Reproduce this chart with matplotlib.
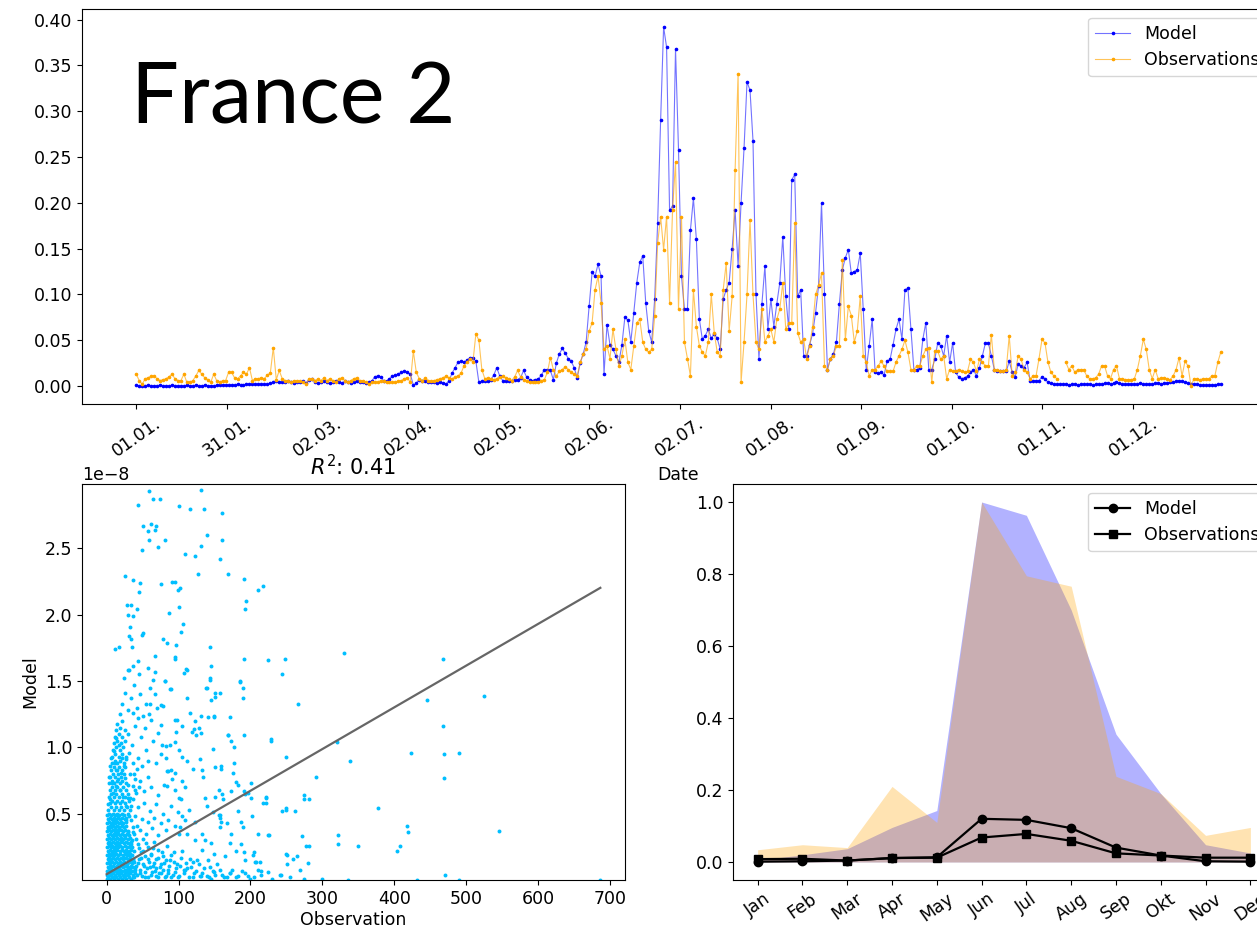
import numpy as np
import matplotlib
matplotlib.use("Agg")
import matplotlib.pyplot as plt

# ---------------- daily series (Jan 1 .. Dec 31) ----------------
model_daily = [
    0.001, 0.000, 0.000, 0.000, 0.001, 0.000, 0.000, 0.000, 0.001, 0.000,
    0.000, 0.000, 0.001, 0.000, 0.000, 0.000, 0.000, 0.001, 0.000, 0.000,
    0.001, 0.000, 0.000, 0.001, 0.000, 0.000, 0.000, 0.001, 0.001, 0.001,
    0.001, 0.001, 0.001, 0.001, 0.002, 0.001, 0.001, 0.002, 0.002, 0.002,
    0.002, 0.002, 0.002, 0.002, 0.002, 0.003, 0.004, 0.005, 0.004, 0.004,
    0.004, 0.005, 0.004, 0.003, 0.004, 0.004, 0.005, 0.003, 0.007, 0.008,
    0.004, 0.003, 0.004, 0.005, 0.004, 0.003, 0.004, 0.005, 0.004, 0.003,
    0.005, 0.004, 0.003, 0.004, 0.005, 0.004, 0.004, 0.003, 0.004, 0.005,
    0.010, 0.011, 0.010, 0.006, 0.005, 0.008, 0.011, 0.012, 0.013, 0.015,
    0.016, 0.015, 0.013, 0.001, 0.003, 0.007, 0.006, 0.005, 0.004, 0.004,
    0.004, 0.003, 0.004, 0.003, 0.002, 0.006, 0.014, 0.020, 0.026, 0.027,
    0.026, 0.028, 0.031, 0.031, 0.027, 0.004, 0.005, 0.006, 0.005, 0.007,
    0.012, 0.020, 0.011, 0.006, 0.005, 0.005, 0.006, 0.007, 0.007, 0.009,
    0.017, 0.010, 0.007, 0.006, 0.007, 0.008, 0.012, 0.018, 0.018, 0.017,
    0.007, 0.025, 0.035, 0.041, 0.036, 0.030, 0.027, 0.020, 0.009, 0.025,
    0.035, 0.048, 0.087, 0.124, 0.120, 0.133, 0.120, 0.013, 0.067, 0.045,
    0.040, 0.033, 0.026, 0.045, 0.075, 0.072, 0.048, 0.080, 0.113, 0.135,
    0.142, 0.091, 0.060, 0.048, 0.095, 0.178, 0.290, 0.392, 0.370, 0.192,
    0.196, 0.368, 0.258, 0.120, 0.084, 0.084, 0.170, 0.205, 0.160, 0.073,
    0.051, 0.055, 0.062, 0.052, 0.057, 0.052, 0.040, 0.095, 0.105, 0.113,
    0.150, 0.192, 0.131, 0.200, 0.260, 0.332, 0.323, 0.268, 0.101, 0.030,
    0.090, 0.131, 0.062, 0.095, 0.065, 0.090, 0.113, 0.163, 0.098, 0.062,
    0.225, 0.231, 0.098, 0.105, 0.033, 0.033, 0.045, 0.057, 0.080, 0.109,
    0.200, 0.101, 0.018, 0.030, 0.035, 0.048, 0.090, 0.127, 0.140, 0.149,
    0.123, 0.125, 0.127, 0.145, 0.084, 0.018, 0.044, 0.073, 0.015, 0.014,
    0.015, 0.012, 0.027, 0.029, 0.045, 0.062, 0.073, 0.051, 0.105, 0.107,
    0.062, 0.018, 0.018, 0.020, 0.051, 0.069, 0.018, 0.018, 0.029, 0.047,
    0.044, 0.033, 0.055, 0.026, 0.047, 0.015, 0.010, 0.008, 0.009, 0.011,
    0.015, 0.018, 0.011, 0.020, 0.033, 0.047, 0.047, 0.033, 0.018, 0.016,
    0.016, 0.016, 0.016, 0.027, 0.015, 0.010, 0.024, 0.022, 0.020, 0.026,
    0.006, 0.006, 0.006, 0.006, 0.010, 0.008, 0.004, 0.003, 0.002, 0.002,
    0.002, 0.002, 0.002, 0.001, 0.002, 0.002, 0.001, 0.002, 0.002, 0.002,
    0.002, 0.001, 0.002, 0.002, 0.002, 0.003, 0.003, 0.002, 0.003, 0.004,
    0.003, 0.002, 0.002, 0.002, 0.002, 0.002, 0.002, 0.003, 0.002, 0.002,
    0.002, 0.002, 0.003, 0.003, 0.002, 0.003, 0.003, 0.004, 0.004, 0.005,
    0.006, 0.005, 0.004, 0.003, 0.002, 0.002, 0.002, 0.001, 0.001, 0.001,
    0.001, 0.001, 0.001, 0.002, 0.002,
]

nan = float("nan")
obs_daily = [
    0.013, 0.006, 0.002, 0.008, 0.009, 0.011, 0.011, 0.008, 0.006, 0.007,
    0.008, 0.010, 0.013, 0.008, 0.006, 0.006, 0.013, 0.004, 0.004, 0.006,
    0.011, 0.017, 0.013, 0.009, 0.007, 0.004, 0.013, 0.006, 0.004, 0.006,
    0.006, 0.015, 0.015, 0.009, 0.008, 0.011, 0.015, 0.013, 0.020, 0.006,
    0.008, 0.008, 0.009, 0.008, 0.012, 0.014, 0.042, 0.007, 0.017, 0.008,
    0.006, 0.006, 0.004, 0.006, 0.006, 0.005, 0.004, 0.002, 0.008, 0.008,
    0.006, 0.008, 0.006, 0.009, 0.006, 0.008, 0.006, 0.004, 0.008, 0.009,
    0.006, 0.004, 0.006, 0.008, 0.009, 0.006, 0.006, 0.004, 0.002, 0.004,
    0.004, 0.004, 0.006, 0.005, 0.004, 0.004, 0.004, 0.004, 0.005, 0.006,
    0.008, 0.009, 0.004, 0.038, 0.015, 0.008, 0.006, 0.009, 0.006, 0.005,
    0.006, 0.007, 0.008, 0.009, 0.011, 0.009, 0.008, 0.010, 0.011, 0.014,
    0.022, 0.026, 0.030, 0.026, 0.057, 0.050, 0.018, 0.008, 0.009, 0.008,
    0.007, 0.008, 0.010, 0.011, 0.009, 0.008, 0.006, 0.010, 0.017, 0.010,
    0.007, 0.006, 0.004, 0.004, 0.004, 0.004, 0.006, 0.007, 0.015, 0.031,
    0.018, 0.011, 0.016, 0.018, 0.021, 0.018, 0.015, 0.013, 0.011, 0.026,
    0.035, 0.040, 0.060, 0.069, 0.105, 0.120, 0.091, 0.040, 0.044, 0.030,
    0.062, 0.040, 0.022, 0.033, 0.051, 0.026, 0.018, 0.044, 0.069, 0.073,
    0.048, 0.040, 0.037, 0.040, 0.076, 0.156, 0.185, 0.149, 0.185, 0.091,
    0.192, 0.245, 0.084, 0.185, 0.048, 0.030, 0.011, 0.105, 0.065, 0.044,
    0.037, 0.033, 0.048, 0.100, 0.058, 0.037, 0.033, 0.105, 0.134, 0.060,
    0.098, 0.236, 0.341, 0.004, 0.048, 0.100, 0.181, 0.100, 0.048, 0.040,
    0.084, 0.048, 0.055, 0.062, 0.048, 0.073, 0.084, 0.113, 0.062, 0.069,
    0.069, 0.178, 0.058, 0.048, 0.051, 0.030, 0.044, 0.065, 0.100, 0.110,
    0.123, 0.022, 0.018, 0.030, 0.033, 0.044, 0.044, 0.138, 0.051, 0.087,
    0.077, 0.048, 0.060, 0.098, 0.033, 0.026, 0.011, 0.018, 0.018, 0.022,
    0.027, 0.022, 0.016, 0.016, 0.016, 0.026, 0.033, 0.040, 0.050, 0.037,
    0.018, 0.018, 0.022, 0.022, 0.033, 0.040, 0.042, 0.004, 0.038, 0.038,
    0.029, 0.033, 0.008, 0.018, 0.016, 0.016, 0.018, 0.016, 0.015, 0.016,
    0.029, 0.026, 0.016, 0.029, 0.026, 0.022, 0.022, 0.056, 0.018, 0.018,
    0.016, 0.016, 0.018, 0.055, 0.011, 0.015, 0.033, 0.029, 0.018, 0.015,
    0.008, 0.011, 0.011, 0.030, 0.051, 0.047, 0.026, 0.015, 0.011, 0.008,
    nan,   nan,   0.026, 0.018, 0.022, 0.015, 0.018, 0.018, 0.018, 0.011,
    0.008, 0.008, 0.009, 0.013, 0.022, 0.022, 0.011, 0.008, 0.018, 0.022,
    0.008, 0.008, 0.007, 0.007, 0.007, 0.008, 0.018, 0.033, 0.051, 0.040,
    0.018, 0.008, 0.018, 0.008, 0.009, 0.009, 0.008, 0.007, 0.011, 0.018,
    0.031, 0.011, 0.027, 0.022, 0.000, 0.008, 0.008, 0.007, 0.008, 0.008,
    0.008, 0.011, 0.011, 0.026, 0.037,
]

date_tick_labels = ["01.01.", "31.01.", "02.03.", "02.04.", "02.05.", "02.06.",
                    "02.07.", "01.08.", "01.09.", "01.10.", "01.11.", "01.12."]

# ---------------- scatter: observation vs model (model in units of 1e-8) ----------------
scatter_core = [
    (0.3, 0.01), (2.4, 0.02), (4.9, 0.01), (7.3, 0.02), (9.8, 0.01), (12.6, 0.02), (15.2, 0.01),
    (18.1, 0.02), (21.0, 0.01), (24.2, 0.02), (27.5, 0.01), (30.9, 0.02), (34.4, 0.01), (38.0, 0.02),
    (1.1, 0.04), (3.6, 0.05), (6.0, 0.04), (8.6, 0.05), (11.2, 0.04), (13.9, 0.05), (16.7, 0.04),
    (19.6, 0.05), (22.6, 0.04), (25.8, 0.05), (29.1, 0.04), (32.6, 0.05), (36.2, 0.04), (39.9, 0.05),
    (0.6, 0.07), (3.0, 0.08), (5.5, 0.07), (8.0, 0.08), (10.6, 0.07), (13.3, 0.08), (16.0, 0.07),
    (18.9, 0.08), (21.9, 0.07), (25.0, 0.08), (28.3, 0.07), (31.7, 0.08), (35.3, 0.07), (39.0, 0.08),
    (1.5, 0.10), (4.0, 0.11), (6.6, 0.10), (9.2, 0.11), (11.9, 0.10), (14.6, 0.11), (17.4, 0.10),
    (20.3, 0.11), (23.4, 0.10), (26.6, 0.11), (29.9, 0.10), (33.4, 0.11), (37.1, 0.10),
    (0.4, 0.13), (2.8, 0.14), (5.2, 0.13), (7.8, 0.14), (10.4, 0.13), (13.0, 0.14), (15.8, 0.13),
    (18.6, 0.14), (21.6, 0.13), (24.7, 0.14), (28.0, 0.13), (31.4, 0.14), (35.0, 0.13), (38.6, 0.14),
    (1.3, 0.16), (3.8, 0.17), (6.3, 0.16), (8.9, 0.17), (11.6, 0.16), (14.3, 0.17), (17.1, 0.16),
    (20.0, 0.17), (23.1, 0.16), (26.3, 0.17), (29.6, 0.16), (33.1, 0.17), (36.7, 0.16),
    (0.7, 0.19), (3.1, 0.20), (5.6, 0.19), (8.2, 0.20), (10.8, 0.19), (13.5, 0.20), (16.3, 0.19),
    (19.2, 0.20), (22.2, 0.19), (25.4, 0.20), (28.7, 0.19), (32.1, 0.20), (35.8, 0.19),
    (1.8, 0.22), (4.3, 0.23), (6.9, 0.22), (9.5, 0.23), (12.2, 0.22), (15.0, 0.23), (17.9, 0.22),
    (20.8, 0.23), (23.9, 0.22), (27.1, 0.23), (30.5, 0.22), (34.0, 0.23),
    (0.5, 0.25), (2.9, 0.26), (5.4, 0.25), (8.0, 0.26), (10.6, 0.25), (13.3, 0.26), (16.1, 0.25),
    (19.0, 0.26), (22.0, 0.25), (25.1, 0.26), (28.4, 0.25), (31.9, 0.26), (35.5, 0.25),
    (1.4, 0.28), (3.9, 0.29), (6.5, 0.28), (9.1, 0.29), (11.8, 0.28), (14.6, 0.29), (17.5, 0.28),
    (20.4, 0.29), (23.5, 0.28), (26.8, 0.29), (30.2, 0.28), (33.7, 0.29),
    (0.8, 0.31), (3.2, 0.32), (5.8, 0.31), (8.4, 0.32), (11.0, 0.31), (13.8, 0.32), (16.6, 0.31),
    (19.5, 0.32), (22.6, 0.31), (25.8, 0.32), (29.2, 0.31), (32.8, 0.32),
    (1.9, 0.34), (4.4, 0.35), (7.0, 0.34), (9.7, 0.35), (12.4, 0.34), (15.2, 0.35), (18.1, 0.34),
    (21.1, 0.35), (24.3, 0.34), (27.6, 0.35), (31.0, 0.34),
    (0.6, 0.37), (3.0, 0.38), (5.6, 0.37), (8.2, 0.38), (10.9, 0.37), (13.6, 0.38), (16.4, 0.37),
    (19.4, 0.38), (22.5, 0.37), (25.7, 0.38), (29.0, 0.37),
    (1.6, 0.40), (4.1, 0.41), (6.7, 0.40), (9.3, 0.41), (12.0, 0.40), (14.8, 0.41), (17.7, 0.40),
    (20.7, 0.41), (23.8, 0.40), (27.1, 0.41),
    (0.9, 0.43), (3.4, 0.44), (6.0, 0.43), (8.6, 0.44), (11.3, 0.43), (14.1, 0.44), (17.0, 0.43),
    (20.0, 0.44), (23.1, 0.43), (26.4, 0.44),
    (2.0, 0.46), (4.5, 0.47), (7.1, 0.46), (9.8, 0.47), (12.6, 0.46), (15.4, 0.47), (18.4, 0.46),
    (21.5, 0.47), (24.8, 0.46),
    (1.1, 0.49), (3.6, 0.50), (6.2, 0.49), (8.9, 0.50), (11.7, 0.49), (14.6, 0.50), (17.6, 0.49),
    (20.7, 0.50), (24.0, 0.49),
    (1.9, 0.03), (5.8, 0.06), (10.1, 0.02), (14.4, 0.09), (18.8, 0.05), (23.1, 0.12), (27.4, 0.08),
    (31.8, 0.15), (3.3, 0.18), (7.7, 0.21), (12.0, 0.24), (16.4, 0.27), (20.7, 0.30), (25.0, 0.33),
    (29.4, 0.36), (2.5, 0.39), (6.9, 0.42), (11.2, 0.45), (15.6, 0.48), (19.9, 0.12), (24.2, 0.17),
    (28.6, 0.21), (32.9, 0.25), (4.6, 0.28), (9.0, 0.33), (13.3, 0.36), (17.7, 0.39), (22.0, 0.42),
    (26.3, 0.45), (30.7, 0.48), (35.0, 0.30), (38.2, 0.35), (36.5, 0.40), (33.2, 0.45), (29.8, 0.50),
    (27.0, 0.47),
]

scatter_column = [
    (2.5, 0.53), (6.0, 0.55), (9.5, 0.53), (13.0, 0.55), (16.5, 0.53), (20.0, 0.55), (24.0, 0.53),
    (28.0, 0.55), (32.0, 0.53),
    (4.0, 0.58), (7.5, 0.60), (11.0, 0.58), (14.5, 0.60), (18.0, 0.58), (22.0, 0.60), (26.0, 0.58),
    (30.5, 0.60),
    (3.0, 0.63), (6.5, 0.65), (10.0, 0.63), (13.5, 0.65), (17.0, 0.63), (21.0, 0.65), (25.0, 0.63),
    (29.5, 0.65),
    (4.5, 0.68), (8.0, 0.70), (11.5, 0.68), (15.0, 0.70), (19.0, 0.68), (23.0, 0.70), (27.5, 0.68),
    (3.5, 0.73), (7.0, 0.75), (10.5, 0.73), (14.0, 0.75), (18.0, 0.73), (22.0, 0.75), (26.5, 0.73),
    (5.0, 0.78), (8.5, 0.80), (12.0, 0.78), (16.0, 0.80), (20.0, 0.78), (24.5, 0.80),
    (6.0, 0.83), (9.5, 0.85), (13.0, 0.83), (17.0, 0.85), (21.0, 0.83), (26.0, 0.85),
    (7.0, 0.88), (11.0, 0.90), (15.0, 0.88), (19.0, 0.90), (24.0, 0.88),
    (8.0, 0.93), (12.0, 0.95), (16.5, 0.93), (21.0, 0.95), (27.0, 0.93),
    (9.0, 0.98), (13.5, 1.00), (18.0, 0.98), (23.0, 1.00),
    (10.0, 1.03), (15.0, 1.05), (20.0, 1.03), (26.0, 1.05),
    (11.5, 1.08), (16.5, 1.10), (22.0, 1.08),
    (13.0, 1.13), (18.0, 1.15), (25.0, 1.13),
    (15.0, 1.18), (21.0, 1.20),
    (2.0, 0.57), (5.0, 0.61), (8.8, 0.66), (12.5, 0.71), (16.0, 0.76), (19.5, 0.81), (23.5, 0.86),
    (27.0, 0.91), (31.0, 0.96), (34.5, 0.56), (37.0, 0.61), (40.0, 0.68), (4.0, 0.86), (6.5, 0.92),
    (10.0, 0.97), (13.5, 1.07), (17.5, 1.02), (21.5, 0.92), (25.5, 0.77), (29.0, 0.72), (32.5, 0.80),
    (36.0, 0.88), (39.5, 0.76), (42.5, 0.84), (45.0, 0.70), (3.0, 0.78), (7.5, 0.73), (11.0, 0.88),
    (14.5, 0.83), (18.5, 0.68), (22.5, 0.63), (26.5, 0.56), (30.0, 0.62),
]

scatter_spread = [
    (41, 0.11), (43, 0.27), (45, 0.16), (46, 0.05), (48, 0.21), (50, 0.12), (51, 0.31), (53, 0.02),
    (54, 0.18), (56, 0.09), (57, 0.25), (59, 0.14), (61, 0.04), (62, 0.20), (64, 0.11), (66, 0.29),
    (67, 0.07), (69, 0.16), (71, 0.02), (72, 0.23), (74, 0.10), (76, 0.05), (78, 0.18), (80, 0.13),
    (82, 0.03), (84, 0.26), (86, 0.08), (88, 0.15), (90, 0.02), (93, 0.21), (95, 0.06), (98, 0.12),
    (101, 0.03), (104, 0.17), (107, 0.08), (111, 0.13), (114, 0.02), (118, 0.10), (122, 0.05),
    (126, 0.15), (131, 0.03), (136, 0.09), (142, 0.02), (148, 0.07), (154, 0.12), (160, 0.04),
    (168, 0.02), (175, 0.08), (183, 0.03), (192, 0.05), (200, 0.01),
    (26, 0.03), (28, 0.12), (30, 0.06), (31, 0.19), (33, 0.09), (34, 0.27), (36, 0.02), (37, 0.15),
    (38, 0.22), (40, 0.09), (41, 0.31), (42, 0.04), (44, 0.13), (45, 0.24), (47, 0.08), (48, 0.17),
    (49, 0.03), (51, 0.22), (52, 0.11), (54, 0.06), (55, 0.28), (57, 0.16), (58, 0.02), (60, 0.10),
    (61, 0.19), (63, 0.06), (64, 0.24), (66, 0.13), (68, 0.03), (69, 0.09), (71, 0.17), (73, 0.05),
    (75, 0.12), (77, 0.21), (79, 0.08), (81, 0.02), (83, 0.15), (85, 0.05), (87, 0.11), (89, 0.19),
    (92, 0.04), (94, 0.14), (97, 0.09), (99, 0.02), (102, 0.11), (105, 0.22), (108, 0.05), (112, 0.09),
    (116, 0.16), (120, 0.02), (124, 0.07), (128, 0.12), (133, 0.05), (139, 0.03), (144, 0.10),
    (151, 0.04), (158, 0.08), (163, 0.02), (171, 0.05), (180, 0.02), (188, 0.07), (196, 0.03),
    (205, 0.02), (230, 0.01), (255, 0.02), (275, 0.01), (300, 0.01),
    (37, 0.36), (39, 0.48), (42, 0.41), (44, 0.55), (47, 0.38), (49, 0.46), (52, 0.58), (55, 0.35),
    (58, 0.44), (60, 0.52), (63, 0.39), (66, 0.47), (69, 0.57), (72, 0.34), (75, 0.43), (78, 0.50),
    (82, 0.38), (86, 0.45), (90, 0.56), (95, 0.41), (100, 0.35), (105, 0.48),
    (33, 0.62), (36, 0.71), (38, 0.80), (41, 0.66), (43, 0.92), (46, 0.75), (49, 0.86), (52, 0.67),
    (55, 0.98), (58, 0.78), (62, 0.70), (65, 1.05), (68, 0.88), (72, 0.64), (76, 0.95), (80, 0.72),
    (85, 0.82), (30, 1.10), (35, 1.02), (39, 1.16), (44, 1.22), (48, 1.08), (53, 1.15), (57, 0.90),
    (61, 1.21),
    (18, 1.25), (22, 1.33), (26, 1.41), (29, 1.28), (34, 1.37), (38, 1.47), (42, 1.30), (47, 1.40),
    (51, 1.24), (55, 1.33), (60, 1.45), (24, 1.52), (31, 1.58), (36, 1.26), (45, 1.55), (70, 1.30),
    (75, 1.17), (88, 1.02),
    (159.7, 0.44), (156.0, 0.49), (157.4, 0.40), (167.6, 0.43), (187.5, 0.44), (189.8, 0.40),
    (138.9, 0.56), (136.6, 0.62), (148.6, 0.51), (172.7, 0.35), (171.3, 0.28), (187.5, 0.27),
    (180.6, 0.22), (192.1, 0.15), (205.0, 0.21), (206.0, 0.14), (213.9, 0.14), (210.7, 0.08),
    (224.6, 0.06), (241.2, 0.04), (250.0, 0.20), (251.4, 0.12), (259.7, 0.16), (215.3, 0.04),
    (172.2, 0.05), (149.0, 0.06), (164.4, 0.18), (149.5, 0.20), (132.9, 0.23), (136.6, 0.30),
    (119.5, 0.14), (122.7, 0.30), (132.0, 0.35), (112.0, 0.35), (101.9, 0.40), (108.8, 0.45),
    (122.7, 0.44), (114.8, 0.53), (98.6, 0.51), (150.5, 0.63), (162.0, 0.61), (173.6, 0.67),
    (144.9, 0.28), (141.2, 0.15), (108.8, 0.08), (129.6, 0.03), (145.8, 0.01),
]

scatter_outer = [
    (58.9, 2.93), (131.7, 2.94), (64.5, 2.87), (73.7, 2.87), (43.1, 2.83), (101.1, 2.82), (116.0, 2.80),
    (135.0, 2.80), (160.5, 2.77), (50.1, 2.67), (62.1, 2.68), (68.2, 2.67), (57.0, 2.63), (67.7, 2.64),
    (58.9, 2.56), (81.6, 2.56), (140.1, 2.60), (160.0, 2.56), (71.0, 2.51), (49.2, 2.49), (130.8, 2.52),
    (108.5, 2.46), (122.9, 2.44), (157.7, 2.42), (25.1, 2.29), (127.1, 2.31), (168.8, 2.31),
    (190.7, 2.27), (36.2, 2.26), (46.8, 2.24), (76.1, 2.23), (90.9, 2.25), (95.1, 2.25), (101.6, 2.20),
    (98.8, 2.19), (210.6, 2.19), (218.0, 2.22), (45.0, 2.17), (28.8, 2.07), (33.9, 2.07), (42.2, 2.04),
    (29.7, 2.00), (37.1, 1.99), (100.7, 2.06), (86.7, 2.01), (193.9, 2.10), (192.0, 2.04), (32.0, 1.91),
    (106.7, 1.93), (103.0, 1.87), (49.6, 1.85), (50.6, 1.86), (31.5, 1.84), (33.4, 1.82), (78.9, 1.82),
    (84.0, 1.79), (96.9, 1.77), (11.1, 1.74), (16.7, 1.76), (34.8, 1.76), (143.8, 1.76),
    (43.2, 1.65), (37.3, 1.61), (30.1, 1.58), (57.4, 1.60), (67.7, 1.69), (94.4, 1.67), (110.9, 1.59),
    (144.5, 1.61), (191.1, 1.67), (224.1, 1.66), (248.0, 1.67), (329.8, 1.71), (468.0, 1.67),
    (243.4, 1.55), (186.0, 1.50), (189.4, 1.45), (189.4, 1.37), (138.8, 1.45), (143.9, 1.51),
    (157.0, 1.41), (151.3, 1.38), (145.0, 1.36), (111.5, 1.37), (81.3, 1.50), (88.1, 1.44), (64.3, 1.51),
    (67.1, 1.57), (445.9, 1.36), (524.9, 1.39), (265.6, 1.33), (115.4, 1.26), (131.4, 1.24),
    (149.6, 1.24), (141.6, 1.23), (128.0, 1.15), (95.0, 1.21), (168.9, 1.09), (173.4, 1.05),
    (191.1, 1.09), (228.6, 1.05), (320.2, 1.04), (468.0, 1.16), (249.1, 0.93), (338.4, 0.90),
    (423.7, 0.96), (469.2, 0.95), (490.2, 0.96), (469.2, 0.77), (291.7, 0.78), (159.2, 0.84),
    (150.1, 0.85), (175.2, 0.81), (179.7, 0.74), (160.9, 0.65), (191.1, 0.67), (192.2, 0.65),
    (200.2, 0.62), (221.8, 0.63), (274.7, 0.64), (274.7, 0.61), (281.5, 0.61), (221.2, 0.58),
    (201.9, 0.48), (182.6, 0.52), (243.4, 0.52), (249.1, 0.53), (262.7, 0.52), (377.0, 0.54),
    (158.1, 0.49), (157.0, 0.47), (418.0, 0.41), (419.7, 0.36), (546.0, 0.37), (272.4, 0.33),
    (322.5, 0.34), (226.3, 0.34), (321.9, 0.27), (349.2, 0.26), (407.8, 0.26), (403.8, 0.22),
    (277.0, 0.26), (281.5, 0.26), (251.4, 0.19), (264.5, 0.18), (280.4, 0.13), (268.9, 0.08),
    (242.8, 0.04), (215.0, 0.07), (208.1, 0.14), (190.5, 0.21), (203.0, 0.19), (470.3, 0.04),
    (490.8, 0.00), (431.6, 0.00), (335.5, 0.00), (686.9, 0.00),
    (250.0, 0.54), (224.6, 0.34), (210.7, 0.35), (221.0, 0.62), (217.6, 0.58), (196.8, 0.66),
    (201.4, 0.73), (182.9, 0.72), (156.0, 0.68), (159.7, 0.86), (177.5, 0.88), (185.7, 1.49),
    (229.2, 1.06), (171.3, 1.23), (143.5, 1.52), (139.8, 1.45), (151.4, 1.41), (149.0, 1.23),
    (122.7, 1.20), (131.0, 1.11), (121.3, 1.14), (134.7, 0.78), (133.3, 0.83), (119.9, 0.84),
    (130.1, 0.91), (123.6, 1.09), (118.5, 1.12), (169.5, 1.09), (176.9, 1.00), (148.6, 0.99),
    (105.1, 0.93), (111.6, 0.90), (94.9, 1.04), (100.9, 0.98), (104.2, 0.75), (108.3, 0.70),
    (94.9, 0.68), (89.8, 0.83), (100.5, 0.62), (103.3, 0.61), (94.9, 0.81), (83.3, 0.71), (90.3, 0.76),
    (83.3, 0.82), (81.9, 0.92), (81.9, 1.01), (77.3, 1.02), (71.8, 1.11), (95.8, 1.12), (97.2, 1.21),
    (105.1, 1.16), (75.0, 1.32), (67.1, 1.40), (60.7, 1.33), (58.8, 1.25), (111.1, 1.58), (106.9, 1.56),
    (94.9, 1.68), (81.0, 1.50), (78.7, 1.31), (89.4, 1.44),
]

fit_slope = 0.003141      # model (1e-8) per observation unit
fit_intercept = 0.045     # model (1e-8)
r_squared = 0.41

# ---------------- monthly summary ----------------
months = ["Jan", "Feb", "Mar", "Apr", "May", "Jun", "Jul", "Aug", "Sep", "Okt", "Nov", "Dec"]
model_share = [0.005, 0.020, 0.037, 0.096, 0.143, 1.000, 0.963, 0.700, 0.355, 0.190, 0.048, 0.025]
obs_share = [0.034, 0.048, 0.040, 0.210, 0.110, 1.000, 0.795, 0.766, 0.238, 0.190, 0.074, 0.096]
model_monthly = [0.001, 0.002, 0.004, 0.011, 0.013, 0.120, 0.117, 0.094, 0.040, 0.018, 0.002, 0.001]
obs_monthly = [0.008, 0.009, 0.004, 0.011, 0.012, 0.068, 0.078, 0.059, 0.024, 0.018, 0.012, 0.012]

# ---------------- figure ----------------
plt.rcParams["font.family"] = ["DejaVu Sans"]
plt.rcParams["font.size"] = 12.5

W, H = 1257, 930
fig = plt.figure(figsize=(W / 100, H / 100), dpi=100)


def axes_px(left, top, right, bottom):
    return fig.add_axes([left / W, 1 - bottom / H, (right - left) / W, (bottom - top) / H])


ax_ts = axes_px(82, 9, 1275, 404)
ax_sc = axes_px(82, 484, 625, 880)
ax_mo = axes_px(733, 484, 1275, 880)

# time series
days = np.arange(len(model_daily))
ax_ts.plot(days, model_daily, color=(0, 0, 1, 0.55), lw=0.8, marker=".", ms=3.2,
           mfc="blue", mec="blue", label="Model")
ax_ts.plot(days, obs_daily, color=(1, 0.647, 0, 0.65), lw=0.8, marker=".", ms=3.2,
           mfc="orange", mec="orange", label="Observations")
tick_days = np.arange(len(date_tick_labels)) * len(days) / len(date_tick_labels)
ax_ts.set_xticks(tick_days)
ax_ts.set_xticklabels(date_tick_labels, rotation=35)
ax_ts.set_xlabel("Date")
ax_ts.legend(loc="upper right")

fig.text(131 / W, 1 - 123 / H, "France 2", fontsize=61, family=["Lato", "DejaVu Sans"],
         va="baseline", ha="left")

# scatter
pts = np.array(scatter_core + scatter_column + scatter_spread + scatter_outer)
sc_obs = pts[:, 0]
sc_mod = pts[:, 1] * 1e-8
ax_sc.scatter(sc_obs, sc_mod, s=8, color="deepskyblue", linewidths=0)
x_fit = np.array([0.0, sc_obs.max()])
ax_sc.plot(x_fit, (fit_intercept + fit_slope * x_fit) * 1e-8, color="#666666", lw=1.6)
ax_sc.set_ylim(1e-11, 2.985e-8)
ax_sc.set_title(f"$R^2$: {r_squared:.2f}")
ax_sc.set_xlabel("Observation", labelpad=2)
ax_sc.set_ylabel("Model")

# monthly
m = np.arange(len(months))
ax_mo.fill_between(m, 0, model_share, color="blue", alpha=0.3, lw=0)
ax_mo.fill_between(m, 0, obs_share, color="orange", alpha=0.3, lw=0)
ax_mo.plot(m, model_monthly, color="black", marker="o", ms=6, lw=1.6, label="Model")
ax_mo.plot(m, obs_monthly, color="black", marker="s", ms=6, lw=1.6, label="Observations")
ax_mo.set_xticks(m)
ax_mo.set_xticklabels(months, rotation=35)
ax_mo.legend(loc="upper right")

fig.savefig("out.png", dpi=100)
